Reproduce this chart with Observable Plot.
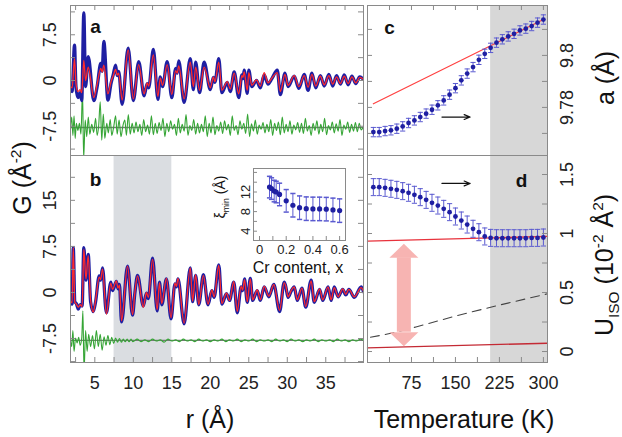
<!DOCTYPE html>
<html><head><meta charset="utf-8">
<script src="https://cdn.jsdelivr.net/npm/d3@7"></script>
<script src="https://cdn.jsdelivr.net/npm/@observablehq/plot@0.6"></script>
<style>
body{margin:0;background:#fff;}
#fig{position:relative;width:622px;height:437px;overflow:hidden;font-family:"Liberation Sans",Arial,sans-serif;background:#fff;}
#fig svg{position:absolute;left:0;top:0;}
.lbl{position:absolute;white-space:nowrap;line-height:1;color:#111;}
.rot{transform:translate(-50%,-50%) rotate(-90deg);}
.ctr{transform:translate(-50%,-50%);}
sup,sub{font-size:62%;line-height:0;}
</style></head><body><div id="fig"></div>
<script>
// ---------- DATA ----------
// Panel a: [r (Å), G observed, G calculated]
const pdfA = [[1.84,-1.4,-1.0],[2.05,-1.8,-1.2],[2.36,5.8,3.6],[2.55,-1.0,-0.5],[2.8,-2.8,-1.8],[3.1,-2.0,-1.5],[3.3,-3.3,-2.0],[3.57,11.1,3.3],[3.8,-1.0,0.0],[4.14,3.9,2.2],[4.87,-3.3,-2.8],[5.3,-1.0,-0.6],[5.77,2.8,2.0],[5.95,1.5,1.4],[6.17,6.4,2.5],[6.7,-3.2,-2.2],[7.1,-0.5,-0.2],[7.4,1.0,0.8],[7.7,2.5,1.8],[7.9,0.8,0.9],[8.1,1.5,1.2],[8.55,-3.9,-3.2],[9.33,5.3,5.0],[10.0,-3.3,-3.0],[10.7,3.1,2.6],[11.4,-2.5,-2.2],[11.8,-0.5,-0.4],[12.0,-1.2,-0.9],[12.6,5.1,4.2],[13.2,-3.1,-2.6],[13.5,0.6,0.4],[13.8,-1.0,-0.8],[14.4,3.1,2.6],[15.0,-2.8,-2.3],[15.5,2.0,1.6],[15.7,1.2,1.2],[15.9,3.2,2.4],[16.6,-3.6,-3.0],[17.4,3.6,3.0],[17.8,-1.5,-1.0],[18.1,3.0,2.2],[18.6,-2.0,-1.6],[19.2,3.0,2.2],[20.0,-1.5,-1.2],[20.4,0.5,0.6],[20.6,-0.3,-0.2],[21.1,3.6,3.0],[21.5,-2.0,-1.6],[22.2,-0.3,-0.2],[22.6,-1.8,-1.4],[23.1,1.4,1.2],[23.7,-2.8,-2.2],[24.1,0.9,0.8],[24.25,0.3,0.5],[24.4,1.7,1.4],[24.8,-2.1,-1.6],[25.0,1.7,1.3],[25.4,-1.0,-0.8],[26.0,0.0,0.1],[26.5,-1.2,-0.9],[27.0,0.9,1.3],[27.5,-0.6,-0.4],[28.0,0.3,0.4],[28.7,1.7,1.3],[29.1,-2.3,-1.8],[29.7,1.2,1.0],[30.1,-1.0,-0.8],[30.9,0.7,0.8],[31.5,-1.3,-1.0],[32.2,1.0,0.8],[32.7,-1.6,-1.1],[33.2,1.2,1.0],[33.7,-1.2,-0.9],[34.3,0.8,0.7],[34.8,-0.9,-0.7],[35.4,1.0,0.8],[35.9,-0.9,-0.6],[36.4,0.8,0.6],[36.9,-0.6,-0.5],[37.4,0.9,0.7],[37.9,-0.7,-0.5],[38.4,0.7,0.6],[38.9,-0.5,-0.4],[39.4,0.6,0.5],[39.9,0.2,0.2]];
// Panel a difference curve (offset): [r, G]
const diffA = [[1.84,-7.7],[2.0,-6.0],[2.15,-9.0],[2.3,-5.8],[2.45,-9.5],[2.6,-7.0],[2.8,-8.2],[3.0,-7.0],[3.2,-8.8],[3.4,-1.7],[3.55,-12.8],[3.75,-6.5],[3.95,-9.2],[4.15,-6.0],[4.35,-8.8],[4.6,-7.2],[4.85,-8.5],[5.1,-6.2],[5.3,-9.0],[5.5,-7.4],[5.7,-3.5],[5.9,-9.8],[6.1,-5.5],[6.3,-9.5],[6.55,-7.0],[6.75,-8.6],[7.0,-6.4],[7.2,-9.0],[7.45,-7.6],[7.7,-5.8],[7.9,-8.8],[8.15,-6.5],[8.4,-9.2],[8.65,-7.4],[8.9,-6.5],[9.1,-9.0],[9.35,-5.6],[9.6,-8.8],[9.85,-7.0],[10.1,-8.6],[10.35,-6.8],[10.6,-8.4],[10.85,-7.2],[11.1,-9.0],[11.35,-6.4],[11.6,-8.4],[11.85,-7.3],[12.1,-8.8],[12.35,-5.8],[12.6,-8.9],[12.85,-7.0],[13.1,-8.7],[13.35,-6.9],[13.6,-8.2],[13.85,-6.2],[14.1,-9.2],[14.35,-7.0],[14.6,-8.4],[14.85,-6.6],[15.1,-8.0],[15.35,-7.2],[15.6,-9.0],[15.85,-6.2],[16.1,-8.6],[16.35,-7.2],[16.6,-8.3],[16.85,-5.6],[17.1,-9.0],[17.35,-7.4],[17.6,-8.2],[17.85,-6.4],[18.1,-8.8],[18.35,-7.0],[18.6,-8.6],[18.85,-7.2],[19.1,-8.4],[19.35,-5.8],[19.6,-9.2],[19.85,-7.0],[20.1,-8.6],[20.35,-6.0],[20.6,-8.9],[20.85,-7.4],[21.1,-8.3],[21.35,-6.8],[21.6,-8.7],[21.85,-6.6],[22.1,-8.1],[22.35,-7.2],[22.6,-9.0],[22.85,-5.8],[23.1,-8.2],[23.35,-7.4],[23.6,-8.9],[23.85,-6.6],[24.1,-8.0],[24.35,-7.0],[24.6,-8.7],[24.85,-5.5],[25.1,-9.2],[25.35,-7.1],[25.6,-8.3],[25.85,-6.5],[26.1,-8.8],[26.35,-7.3],[26.6,-8.0],[26.85,-6.9],[27.1,-8.6],[27.35,-7.2],[27.6,-8.4],[27.85,-6.4],[28.1,-9.0],[28.35,-7.0],[28.6,-8.2],[28.85,-6.8],[29.1,-8.9],[29.35,-6.0],[29.6,-8.6],[29.85,-7.2],[30.1,-8.4],[30.35,-6.6],[30.6,-8.8],[30.85,-7.3],[31.1,-8.1],[31.35,-6.9],[31.6,-8.5],[31.85,-7.0],[32.1,-8.7],[32.35,-6.2],[32.6,-8.3],[32.85,-7.4],[33.1,-9.0],[33.35,-7.0],[33.6,-8.2],[33.85,-6.6],[34.1,-8.8],[34.35,-7.2],[34.6,-8.4],[34.85,-6.2],[35.1,-8.9],[35.35,-7.4],[35.6,-8.1],[35.85,-6.8],[36.1,-8.6],[36.35,-7.1],[36.6,-8.3],[36.85,-6.4],[37.1,-9.0],[37.35,-7.3],[37.6,-8.0],[37.85,-6.8],[38.1,-8.5],[38.35,-7.2],[38.6,-8.3],[38.85,-6.9],[39.1,-8.4],[39.35,-7.0],[39.6,-8.1],[39.9,-7.6]];
// Panel b: [r (Å), G observed, G calculated]
const pdfB = [[1.84,-1.6,-1.4],[2.05,-1.9,-1.7],[2.2,7.3,7.3],[2.4,-1.5,-1.6],[2.6,-1.8,-1.9],[2.85,-2.7,-2.4],[3.1,-2.0,-2.0],[3.35,-2.2,-2.3],[3.57,7.3,7.0],[3.85,2.0,2.2],[4.14,6.2,6.0],[4.45,-1.5,-1.2],[4.8,-3.1,-3.2],[5.1,-1.5,-1.3],[5.57,2.7,2.5],[5.75,2.0,2.1],[6.0,4.0,3.8],[6.5,-3.3,-3.5],[7.08,1.7,1.5],[7.3,0.3,0.5],[7.8,1.8,1.9],[8.0,0.6,0.7],[8.2,1.3,1.2],[8.47,-4.8,-4.6],[9.25,4.3,4.3],[9.9,-3.7,-3.6],[10.2,-0.1,0.0],[10.55,2.8,2.7],[11.3,-2.2,-2.4],[11.7,-0.1,0.0],[11.95,-1.0,-0.8],[12.5,5.6,5.4],[13.1,-3.0,-2.8],[13.4,1.7,1.6],[13.7,-2.0,-1.8],[14.3,2.2,2.3],[14.9,-4.3,-4.1],[15.4,1.4,1.5],[15.6,0.9,1.0],[15.8,2.2,2.3],[16.6,-5.1,-5.0],[17.4,4.0,4.0],[17.7,-1.5,-1.4],[18.1,2.8,2.9],[18.5,-2.0,-2.0],[19.1,2.9,2.8],[19.7,-2.0,-1.9],[20.2,0.3,0.4],[20.5,-0.8,-0.7],[21.1,4.5,4.4],[21.5,-1.9,-1.8],[22.1,-0.2,-0.1],[22.5,-1.3,-1.3],[23.05,1.7,1.8],[23.5,-3.3,-3.1],[24.0,0.9,1.0],[24.2,0.3,0.4],[24.45,2.2,2.1],[24.8,-1.6,-1.5],[25.2,2.3,2.2],[25.5,-1.3,-1.2],[26.1,0.3,0.4],[26.5,-1.3,-1.2],[27.0,0.9,1.0],[27.6,-0.7,-0.6],[28.25,1.3,1.3],[29.0,-3.1,-2.9],[29.6,1.7,1.6],[29.8,1.0,1.1],[30.1,-0.8,-0.7],[30.5,0.2,0.3],[30.9,0.9,0.9],[31.3,-1.3,-1.2],[31.9,0.7,0.7],[32.4,-2.4,-2.3],[33.1,2.0,1.9],[33.5,-1.6,-1.5],[34.2,0.5,0.6],[34.6,-1.3,-1.2],[35.3,0.9,0.9],[35.7,-1.3,-1.2],[36.1,0.9,0.8],[36.6,-0.7,-0.7],[37.2,0.5,0.6],[37.6,-0.4,-0.3],[38.0,0.5,0.5],[38.7,-0.8,-0.7],[39.6,0.9,0.8],[39.9,0.1,0.2]];
// Panel b difference curve (offset): [r, G]
const diffB = [[1.84,-7.8],[2.0,-8.8],[2.15,-6.2],[2.3,-9.6],[2.5,-7.4],[2.7,-8.2],[2.9,-7.3],[3.1,-8.6],[3.3,-7.4],[3.45,-3.0],[3.6,-13.0],[3.8,-6.2],[4.0,-9.6],[4.2,-6.8],[4.45,-8.8],[4.7,-7.0],[4.95,-9.2],[5.2,-6.2],[5.45,-8.8],[5.7,-6.8],[5.95,-9.4],[6.2,-7.2],[6.45,-8.6],[6.7,-7.0],[6.95,-8.5],[7.2,-7.3],[7.45,-8.3],[7.7,-7.4],[7.95,-8.1],[8.2,-7.5],[8.45,-8.1],[8.7,-7.6],[8.95,-8.0],[9.2,-7.6],[9.45,-8.0],[9.7,-7.6],[9.95,-8.0],[10.5,-7.6],[11,-8.0],[11.5,-7.7],[12,-8.0],[12.5,-7.6],[13,-7.9],[13.5,-7.7],[14,-8.1],[14.5,-7.6],[15,-7.9],[15.5,-7.7],[16,-8.0],[16.5,-7.6],[17,-7.9],[17.5,-7.7],[18,-8.0],[18.5,-7.6],[19,-7.9],[19.5,-7.7],[20,-8.0],[20.5,-7.7],[21,-7.9],[21.5,-7.6],[22,-8.0],[22.5,-7.7],[23,-7.9],[23.5,-7.6],[24,-8.0],[24.5,-7.7],[25,-7.9],[25.5,-7.6],[26,-8.0],[26.5,-7.7],[27,-7.9],[27.5,-7.7],[28,-8.0],[28.5,-7.6],[29,-7.9],[29.5,-7.7],[30,-8.0],[30.5,-7.6],[31,-7.9],[31.5,-7.7],[32,-8.0],[32.5,-7.7],[33,-7.9],[33.5,-7.6],[34,-8.0],[34.5,-7.7],[35,-7.9],[35.5,-7.7],[36,-8.0],[36.5,-7.6],[37,-7.9],[37.5,-7.7],[38,-8.0],[38.5,-7.7],[39,-7.9],[39.5,-7.6],[39.9,-7.8]];
const baseA = -7.7, baseB = -7.8;
const shadeB = [7.5, 15];

// Panels c, d: temperature series
const tempK = [10,20,30,40,50,60,70,80,90,100,110,120,130,140,150,160,170,180,190,200,210,220,230,240,250,260,270,280,290,300];
const latA = [9.7705,9.7705,9.7709,9.7712,9.7718,9.7727,9.7740,9.7750,9.7763,9.7776,9.7791,9.7808,9.7827,9.7849,9.7874,9.7904,9.7930,9.7955,9.7983,9.8006,9.8029,9.8049,9.8062,9.8073,9.8083,9.8096,9.8103,9.8113,9.8126,9.8138];
const latErr = 0.0018;
const uIso = [1.393,1.393,1.387,1.379,1.370,1.359,1.345,1.328,1.308,1.285,1.260,1.237,1.209,1.181,1.144,1.110,1.076,1.040,1.011,0.975,0.963,0.960,0.960,0.960,0.960,0.960,0.960,0.963,0.963,0.966];
const uErr = 0.072;
const fitLatT = [10, 300], fitLat = [9.7814, 9.8138];
const fitUT = [0, 307], fitUhigh = [0.935, 0.975], fitUlow = [0.031, 0.070];
const debyeT = [5, 40, 95, 150, 210, 307], debyeU = [0.121, 0.155, 0.225, 0.300, 0.375, 0.489];
const shadeT = [210, 307];
const arrowC = {T1: 127, T2: 175, a: 9.7763};
const arrowD = {T1: 127, T2: 175, u: 1.424};
const pinkArrow = {T: 62, top: 0.794, bottom: 0.164};

// Inset
const crX = [0.075,0.09,0.11,0.125,0.15,0.2,0.25,0.3,0.35,0.4,0.45,0.5,0.55,0.6];
const xiMin = [13.0,12.7,12.2,12.0,11.5,10.2,9.3,8.8,8.6,8.55,8.55,8.5,8.35,8.2];
const xiErr = [2.2,2.2,2.2,2.2,2.3,2.3,2.4,2.4,2.4,2.4,2.4,2.4,2.4,2.4];

// Ticks
const rTicks = [2.5,5,7.5,10,12.5,15,17.5,20,22.5,25,27.5,30,32.5,35,37.5];
const rLabels = [5,10,15,20,25,30,35];
const gTicksA = [-11.25,-7.5,-3.75,0,3.75,7.5,11.25];
const gLabelsA = [-7.5,0,7.5];
const gTicksB = [-11.25,-7.5,-3.75,0,3.75,7.5,11.25,15,18.75];
const gLabelsB = [-7.5,0,7.5,15];
const tTicks = [37.5,75,112.5,150,187.5,225,262.5,300];
const tLabels = [75,150,225,300];
const aTicks = [9.77,9.78,9.79,9.80,9.81];
const aLabels = [9.78,9.8];
const uTicks = [0,0.25,0.5,0.75,1,1.25,1.5];
const uLabels = [0,0.5,1,1.5];
const crTicks = [0,0.1,0.2,0.3,0.4,0.5,0.6];
const crLabels = [0,0.2,0.4,0.6];
const xiTicks = [4,6,8,10,12,14,16];
const xiLabels = [4,8,12];

// ---------- STYLE ----------
const FONT = "Liberation Sans, Arial, sans-serif";
const BLUE = "#1f1fa2", RED = "#ff2a2a", GREEN = "#35a535", ERR = "#5a5ad0", FRAME = "#8a8a8a";
const W = 622, H = 437;

function frameTicks(xt, yt, fw, fh, len, sides) {
  const m = [];
  const s = sides || {b:1,t:1,l:1,r:1};
  if (s.b) m.push(Plot.ruleX(xt, {x: d => d, insetTop: fh - len, stroke: FRAME}));
  if (s.t) m.push(Plot.ruleX(xt, {x: d => d, insetBottom: fh - len, stroke: FRAME}));
  if (s.l) m.push(Plot.ruleY(yt, {y: d => d, insetRight: fw - len, stroke: FRAME}));
  if (s.r) m.push(Plot.ruleY(yt, {y: d => d, insetLeft: fw - len, stroke: FRAME}));
  return m;
}
const capSym = {draw(ctx) { ctx.moveTo(-2.6, 0); ctx.lineTo(2.6, 0); }};
const headUp = {draw(ctx) { ctx.moveTo(0, -14); ctx.lineTo(14.5, 0); ctx.lineTo(-14.5, 0); ctx.closePath(); }};
const headDown = {draw(ctx) { ctx.moveTo(0, 14); ctx.lineTo(14.5, 0); ctx.lineTo(-14.5, 0); ctx.closePath(); }};
const base = {width: W, height: H, style: {background: "transparent", fontFamily: FONT, overflow: "visible"}};
const lab = (s) => String(s);

const fig = document.getElementById("fig");

// Panel a
const rowsA = pdfA.map(d => ({r: d[0], o: d[1], c: d[2]}));
const difA = diffA.map(d => ({r: d[0], g: d[1]}));
fig.append(Plot.plot({...base, marginLeft: 70, marginRight: W - 363, marginTop: 5, marginBottom: H - 155,
  x: {domain: [1.84, 39.9], axis: null}, y: {domain: [-12.3, 12.3], axis: null},
  marks: [
    Plot.ruleY([baseA], {stroke: "#777", strokeWidth: 1.4}),
    Plot.line(difA, {x: "r", y: "g", stroke: GREEN, strokeWidth: 1.1, curve: "monotone-x", clip: true}),
    Plot.line(rowsA, {x: "r", y: "o", stroke: BLUE, strokeWidth: 3.3, curve: "monotone-x", clip: true}),
    Plot.line(rowsA, {x: "r", y: "c", stroke: RED, strokeWidth: 1.3, curve: "monotone-x", clip: true}),
    ...frameTicks(rTicks, gTicksA, 293, 150, 5, {t:1, l:1, r:1}),
    Plot.frame({stroke: FRAME}),
    Plot.text(["a"], {frameAnchor: "top-left", dx: 25, dy: 21, text: d => d, fontSize: 19, fontWeight: "bold", textAnchor: "middle", lineAnchor: "middle", fill: "#111"}),
    Plot.text(gLabelsA, {y: d => d, text: lab, frameAnchor: "left", dx: -20, rotate: -90, fontSize: 18, textAnchor: "middle", lineAnchor: "middle", fill: "#222"})
  ]}));

// Panel b
const rowsB = pdfB.map(d => ({r: d[0], o: d[1], c: d[2]}));
const difB = diffB.map(d => ({r: d[0], g: d[1]}));
fig.append(Plot.plot({...base, marginLeft: 70, marginRight: W - 363, marginTop: 155, marginBottom: H - 362,
  x: {domain: [1.84, 39.9], axis: null}, y: {domain: [-11.4, 22.3], axis: null},
  marks: [
    Plot.rect([shadeB], {x1: d => d[0], x2: d => d[1], fill: "#dadde1"}),
    Plot.ruleY([baseB], {stroke: "#777", strokeWidth: 1.4}),
    Plot.line(difB, {x: "r", y: "g", stroke: GREEN, strokeWidth: 1.1, curve: "monotone-x", clip: true}),
    Plot.line(rowsB, {x: "r", y: "o", stroke: BLUE, strokeWidth: 3.3, curve: "monotone-x", clip: true}),
    Plot.line(rowsB, {x: "r", y: "c", stroke: RED, strokeWidth: 1.3, curve: "monotone-x", clip: true}),
    ...frameTicks(rTicks, gTicksB, 293, 207, 5, {b:1, l:1, r:1}),
    Plot.frame({stroke: FRAME}),
    Plot.text(["b"], {frameAnchor: "top-left", dx: 25, dy: 24, text: d => d, fontSize: 19, fontWeight: "bold", textAnchor: "middle", lineAnchor: "middle", fill: "#111"}),
    Plot.text(gLabelsB, {y: d => d, text: lab, frameAnchor: "left", dx: -20, rotate: -90, fontSize: 18, textAnchor: "middle", lineAnchor: "middle", fill: "#222"}),
    Plot.text(rLabels, {x: d => d, text: lab, frameAnchor: "bottom", dy: 21, fontSize: 18, textAnchor: "middle", lineAnchor: "middle", fill: "#222"})
  ]}));

// Panel c
const rowsC = tempK.map((t, i) => ({T: t, a: latA[i]}));
const fitC = fitLatT.map((t, i) => ({T: t, a: fitLat[i]}));
fig.append(Plot.plot({...base, marginLeft: 367, marginRight: W - 547, marginTop: 5, marginBottom: H - 155,
  x: {domain: [0, 307], axis: null}, y: {domain: [9.7615, 9.8192], axis: null},
  marks: [
    Plot.rect([shadeT], {x1: d => d[0], x2: d => d[1], fill: "#d7d7d7"}),
    Plot.line(fitC, {x: "T", y: "a", stroke: "#ff4040", strokeWidth: 1.2}),
    Plot.ruleX(rowsC, {x: "T", y1: d => d.a - latErr, y2: d => d.a + latErr, stroke: ERR, strokeWidth: 1}),
    Plot.dot(rowsC, {x: "T", y: d => d.a + latErr, symbol: capSym, stroke: ERR, fill: "none", strokeWidth: 1}),
    Plot.dot(rowsC, {x: "T", y: d => d.a - latErr, symbol: capSym, stroke: ERR, fill: "none", strokeWidth: 1}),
    Plot.dot(rowsC, {x: "T", y: "a", r: 2.4, fill: BLUE, stroke: "none"}),
    Plot.arrow([arrowC], {x1: "T1", x2: "T2", y1: "a", y2: "a", stroke: "#111", strokeWidth: 1.2, headLength: 8, headAngle: 45}),
    ...frameTicks(tTicks, aTicks, 180, 150, 5, {t:1, l:1, r:1}),
    Plot.frame({stroke: FRAME}),
    Plot.text(["c"], {frameAnchor: "top-left", dx: 22, dy: 22, text: d => d, fontSize: 19, fontWeight: "bold", textAnchor: "middle", lineAnchor: "middle", fill: "#111"}),
    Plot.text(aLabels, {y: d => d, text: lab, frameAnchor: "right", dx: 20, rotate: -90, fontSize: 18, textAnchor: "middle", lineAnchor: "middle", fill: "#222"})
  ]}));

// Panel d
const rowsD = tempK.map((t, i) => ({T: t, u: uIso[i]}));
const hiD = fitUT.map((t, i) => ({T: t, u: fitUhigh[i]}));
const loD = fitUT.map((t, i) => ({T: t, u: fitUlow[i]}));
const debD = debyeT.map((t, i) => ({T: t, u: debyeU[i]}));
fig.append(Plot.plot({...base, marginLeft: 367, marginRight: W - 547, marginTop: 155, marginBottom: H - 362,
  x: {domain: [0, 307], axis: null}, y: {domain: [-0.093, 1.661], axis: null},
  marks: [
    Plot.rect([shadeT], {x1: d => d[0], x2: d => d[1], fill: "#d7d7d7"}),
    Plot.line(debD, {x: "T", y: "u", stroke: "#444", strokeWidth: 1.1, strokeDasharray: "9,6", curve: "monotone-x"}),
    Plot.line(hiD, {x: "T", y: "u", stroke: "#e8323c", strokeWidth: 1.3}),
    Plot.line(loD, {x: "T", y: "u", stroke: "#c42a34", strokeWidth: 1.3}),
    Plot.ruleX([pinkArrow], {x: "T", y1: "bottom", y2: "top", stroke: "#f7b4b2", strokeWidth: 14}),
    Plot.dot([pinkArrow], {x: "T", y: "top", symbol: headUp, fill: "#f7b4b2", stroke: "none"}),
    Plot.dot([pinkArrow], {x: "T", y: "bottom", symbol: headDown, fill: "#f7b4b2", stroke: "none"}),
    Plot.ruleX(rowsD, {x: "T", y1: d => d.u - uErr, y2: d => d.u + uErr, stroke: ERR, strokeWidth: 1}),
    Plot.dot(rowsD, {x: "T", y: d => d.u + uErr, symbol: capSym, stroke: ERR, fill: "none", strokeWidth: 1}),
    Plot.dot(rowsD, {x: "T", y: d => d.u - uErr, symbol: capSym, stroke: ERR, fill: "none", strokeWidth: 1}),
    Plot.dot(rowsD, {x: "T", y: "u", r: 2.4, fill: BLUE, stroke: "none"}),
    Plot.arrow([arrowD], {x1: "T1", x2: "T2", y1: "u", y2: "u", stroke: "#111", strokeWidth: 1.2, headLength: 8, headAngle: 45}),
    ...frameTicks(tTicks, uTicks, 180, 207, 5, {b:1, l:1, r:1}),
    Plot.frame({stroke: FRAME}),
    Plot.text(["d"], {frameAnchor: "top-right", dx: -26, dy: 25, text: d => d, fontSize: 19, fontWeight: "bold", textAnchor: "middle", lineAnchor: "middle", fill: "#111"}),
    Plot.text(uLabels, {y: d => d, text: lab, frameAnchor: "right", dx: 20, rotate: -90, fontSize: 18, textAnchor: "middle", lineAnchor: "middle", fill: "#222"}),
    Plot.text(tLabels, {x: d => d, text: lab, frameAnchor: "bottom", dy: 21, fontSize: 18, textAnchor: "middle", lineAnchor: "middle", fill: "#222"})
  ]}));

// Inset (xi_min vs Cr content)
const rowsI = crX.map((x, i) => ({x, y: xiMin[i], e: xiErr[i]}));
fig.append(Plot.plot({...base, marginLeft: 253, marginRight: W - 345, marginTop: 168, marginBottom: H - 240,
  x: {domain: [-0.045, 0.644], axis: null}, y: {domain: [2.1, 16.8], axis: null},
  marks: [
    Plot.frame({fill: "white", stroke: "none"}),
    Plot.ruleX(rowsI, {x: "x", y1: d => d.y - d.e, y2: d => d.y + d.e, stroke: ERR, strokeWidth: 1}),
    Plot.dot(rowsI, {x: "x", y: d => d.y + d.e, symbol: capSym, stroke: ERR, fill: "none"}),
    Plot.dot(rowsI, {x: "x", y: d => d.y - d.e, symbol: capSym, stroke: ERR, fill: "none"}),
    Plot.dot(rowsI, {x: "x", y: "y", r: 2.6, fill: BLUE, stroke: "none"}),
    ...frameTicks(crTicks, xiTicks, 92, 72, 4, {b:1, l:1}),
    Plot.frame({stroke: FRAME}),
    Plot.text(crLabels, {x: d => d, text: lab, frameAnchor: "bottom", dy: 9, fontSize: 13, textAnchor: "middle", lineAnchor: "middle", fill: "#222"}),
    Plot.text(xiLabels, {y: d => d, text: lab, frameAnchor: "left", dx: -8, rotate: -90, fontSize: 13, textAnchor: "middle", lineAnchor: "middle", fill: "#222"})
  ]}));

// Titles (HTML text)
function label(html, x, y, size, rot) {
  const d = document.createElement("div");
  d.className = "lbl " + (rot ? "rot" : "ctr");
  d.style.left = x + "px"; d.style.top = y + "px"; d.style.fontSize = size + "px";
  d.innerHTML = html;
  fig.append(d);
}
label("G (Å<sup>-2</sup>)", 22, 178, 25, true);
label("r (Å)", 210, 419, 25, false);
label("Temperature (K)", 464, 419, 25, false);
label("a (Å)", 605, 78, 25, true);
label("U<sub>ISO</sub> (10<sup>-2</sup> Å<sup>2</sup>)", 604, 265, 25, true);
label("ξ<sub>min</sub> (Å)", 220, 197, 14, true);
label("Cr content, x", 298, 268, 16, false);
</script></body></html>
